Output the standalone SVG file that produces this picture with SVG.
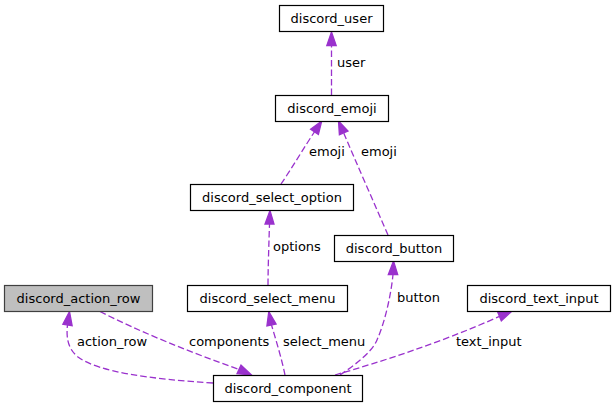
<svg xmlns="http://www.w3.org/2000/svg" width="615" height="407" viewBox="0 0 615 407">
<style>
.box{fill:#ffffff;stroke:#000000;stroke-width:1.2}
.cur{fill:#bfbfbf;stroke:#404040;stroke-width:1.2}
.t{font-family:"DejaVu Sans",sans-serif;font-size:13px;fill:#000000}
.nt{font-family:"DejaVu Sans",sans-serif;font-size:13px;fill:#000000;text-anchor:middle}
.e{fill:none;stroke:#9a32cd;stroke-width:1.3;stroke-dasharray:6.5,3}
.ah{fill:#9a32cd;stroke:#9a32cd;stroke-width:1.3}
</style>
<rect width="615" height="407" fill="#ffffff"/>
<g id="edges">
<path class="e" d="M213,383 C150,379 98,372 78,357 C68,349 66,338 67.5,325"/>
<polygon class="ah" points="69.5,311.5 62.85,324.3 72.15,325.7"/>
<path class="e" d="M100,311.5 C140,332 190,352 239,369.5"/>
<polygon class="ah" points="251.5,375 241,365.2 237,373.8"/>
<path class="e" d="M285,375 C282,360 276,340 271.5,325"/>
<polygon class="ah" points="268.8,311.5 276.1,324.1 266.9,325.9"/>
<path class="e" d="M268,285 C268,270 269,240 269.5,224"/>
<polygon class="ah" points="270,210.5 265,224 274,224"/>
<path class="e" d="M340,375 C355,365 372,352 377,340 C385,322 391,295 393,274.5"/>
<polygon class="ah" points="393.5,261 388.3,274.5 397.7,274.5"/>
<path class="e" d="M335,375 C380,362 440,343 499.5,316.4"/>
<polygon class="ah" points="511.5,311.5 501.3,320.8 497.7,312.1"/>
<path class="e" d="M331.5,95 L331.5,45.5"/>
<polygon class="ah" points="331.5,32 326.8,45.5 336.2,45.5"/>
<path class="e" d="M281,184 C292,168 305,146 314.5,131.8"/>
<polygon class="ah" points="321.7,121 318.4,134.4 310.6,129.2"/>
<path class="e" d="M388,235 C375,205 355,160 343.7,132.9"/>
<polygon class="ah" points="338.5,121 348,131 339.4,134.8"/>
<text class="t" x="337" y="67">user</text>
<text class="t" x="309" y="156">emoji</text>
<text class="t" x="361" y="156">emoji</text>
<text class="t" x="273" y="251">options</text>
<text class="t" x="397" y="302">button</text>
<text class="t" x="77" y="346">action_row</text>
<text class="t" x="189" y="346">components</text>
<text class="t" x="283" y="346">select_menu</text>
<text class="t" x="456" y="346">text_input</text>
</g>
<g id="discord_user"><rect class="box" x="279.5" y="5.5" width="104" height="26"/><text class="nt" x="331.5" y="22.5">discord_user</text></g>
<g id="discord_emoji"><rect class="box" x="275.5" y="95.5" width="113" height="26"/><text class="nt" x="332" y="112.5">discord_emoji</text></g>
<g id="discord_select_option"><rect class="box" x="190.5" y="184.5" width="163" height="26"/><text class="nt" x="272" y="201.5">discord_select_option</text></g>
<g id="discord_button"><rect class="box" x="334.5" y="235.5" width="119" height="26"/><text class="nt" x="394" y="252.5">discord_button</text></g>
<g id="discord_action_row"><rect class="cur" x="4.5" y="285.5" width="148" height="26"/><text class="nt" x="78.5" y="302.5">discord_action_row</text></g>
<g id="discord_select_menu"><rect class="box" x="187.5" y="285.5" width="160" height="26"/><text class="nt" x="267.5" y="302.5">discord_select_menu</text></g>
<g id="discord_text_input"><rect class="box" x="467.5" y="285.5" width="143" height="26"/><text class="nt" x="539" y="302.5">discord_text_input</text></g>
<g id="discord_component"><rect class="box" x="213.5" y="375.5" width="149" height="26"/><text class="nt" x="288" y="392.5">discord_component</text></g>
</svg>
